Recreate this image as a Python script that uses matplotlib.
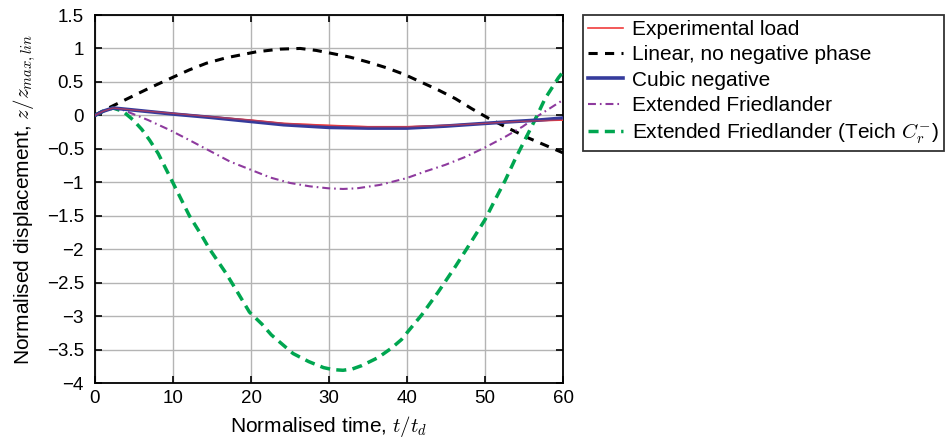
import matplotlib
matplotlib.use("Agg")
import matplotlib.pyplot as plt

plt.rcParams['font.family'] = ['Liberation Sans', 'DejaVu Sans']
plt.rcParams['mathtext.fontset'] = 'cm'

# normalised time t/t_d and normalised displacement
t_lin = [0, 1.9, 4.0, 7.0, 10, 12.1, 14.3, 16.8, 19.4, 20.7, 23.7, 26.3, 28.4, 30.6, 32.7,
         34.9, 37.4, 39.7, 41.0, 44.0, 46.2, 48.3, 50.4, 52.6, 55.6, 57.8, 60]
z_lin = [0, 0.12, 0.24, 0.41, 0.57, 0.68, 0.78, 0.86, 0.92, 0.95, 0.99, 1.0, 0.97, 0.92, 0.87,
         0.80, 0.71, 0.61, 0.54, 0.38, 0.25, 0.10, -0.04, -0.17, -0.34, -0.45, -0.56]

t_cub = [0, 1.0, 2.3, 4.9, 10, 14.8, 19.9, 24.2, 30, 35, 40, 45, 50, 52.6, 56.9, 60]
z_exp = [0, 0.06, 0.11, 0.08, 0.03, -0.02, -0.07, -0.12, -0.15, -0.17, -0.17, -0.15, -0.12, -0.10, -0.08, -0.07]
z_cub = [0, 0.06, 0.11, 0.08, 0.02, -0.03, -0.09, -0.14, -0.18, -0.19, -0.19, -0.16, -0.12, -0.10, -0.07, -0.04]

t_fr = [0, 1.0, 2.3, 3.6, 4.9, 6.8, 9.6, 12.1, 14.7, 17.3, 19.9, 22.5, 25, 27.5, 29.9, 31.8,
        33.6, 36.5, 39.9, 42.3, 44.9, 47.5, 50, 52.6, 54.8, 56.9, 60]
z_fr = [0, 0.06, 0.11, 0.08, 0.02, -0.07, -0.22, -0.37, -0.53, -0.69, -0.81, -0.93, -1.01, -1.06, -1.09, -1.1,
        -1.09, -1.04, -0.94, -0.84, -0.74, -0.62, -0.48, -0.32, -0.17, 0.0, 0.23]

t_te = [0, 1.0, 2.3, 3.6, 4.9, 6.0, 7.0, 8.1, 10, 12.1, 13.8, 14.7, 16.8, 18.1, 19.8, 21.4,
        22.6, 24.1, 25.4, 27.4, 29.3, 30.5, 31.8, 33.0, 34.2, 36.3, 38.0, 39.3, 40.2, 41.9,
        44.0, 46.2, 47.9, 50, 51.3, 52.6, 53.8, 55.1, 56.4, 57.7, 59.4, 60]
z_te = [0, 0.06, 0.11, 0.06, -0.07, -0.21, -0.37, -0.57, -1.01, -1.5, -1.82, -2.0, -2.36, -2.61, -2.94, -3.12,
        -3.28, -3.43, -3.56, -3.68, -3.77, -3.8, -3.81, -3.79, -3.74, -3.62, -3.48, -3.35, -3.22, -2.98,
        -2.64, -2.26, -1.95, -1.56, -1.26, -0.97, -0.67, -0.37, -0.07, 0.25, 0.56, 0.65]

labels = ['Experimental load', 'Linear, no negative phase', 'Cubic negative',
          'Extended Friedlander', 'Extended Friedlander (Teich $C_r^{-}$)']

fig = plt.figure(figsize=(9.48, 4.46), dpi=100)
ax = fig.add_axes([95/948, 1-383/446, 468/948, 368/446])

l1, = ax.plot(t_cub, z_exp, color='#f03c3c', lw=1.2, zorder=3)
l2, = ax.plot(t_lin, z_lin, color='black', lw=2.2, ls=(0, (3, 2.4)), zorder=3)
l3, = ax.plot(t_cub, z_cub, color='#353b9c', lw=2.6, zorder=4)
l4, = ax.plot(t_fr, z_fr, color='#8e3a9e', lw=1.5, ls=(0, (3.8, 1.9, 0.8, 1.9)), zorder=3)
l5, = ax.plot(t_te, z_te, color='#00a650', lw=2.5, ls=(0, (2.9, 1.8)), zorder=3)
ax.plot(t_cub, z_exp, color='#f03c3c', lw=1.0, alpha=0.6, zorder=5)

ax.set_xlim(0, 60)
ax.set_ylim(-4, 1.5)
ax.set_xticks(range(0, 61, 10))
ax.set_yticks([1.5, 1, 0.5, 0, -0.5, -1, -1.5, -2, -2.5, -3, -3.5, -4])
ax.set_yticklabels(['1.5', '1', '0.5', '0', '\u22120.5', '\u22121', '\u22121.5', '\u22122',
                    '\u22122.5', '\u22123', '\u22123.5', '\u22124'])
ax.grid(True, color='#b4b4b4', lw=1)
ax.set_axisbelow(True)
ax.tick_params(direction='in', top=True, right=True, length=5, width=1.2, labelsize=13.5)
ax.tick_params(axis='x', pad=5)
ax.tick_params(axis='y', pad=8)
for s in ax.spines.values():
    s.set_linewidth(1.3)

ax.set_xlabel('Normalised time, $t/t_d$', fontsize=15, labelpad=5)
ax.set_ylabel('Normalised displacement, $z/z_{max,lin}$', fontsize=15, labelpad=6)

leg = fig.legend([l1, l2, l3, l4, l5], labels, loc='upper left',
                 bbox_to_anchor=(583/948, 1-15/446), fontsize=15, frameon=True,
                 fancybox=False, edgecolor='black', handlelength=1.65,
                 handletextpad=0.45, labelspacing=0.3, borderpad=0.25, borderaxespad=0)
leg.get_frame().set_linewidth(1.3)

fig.savefig('out.png', dpi=100)
